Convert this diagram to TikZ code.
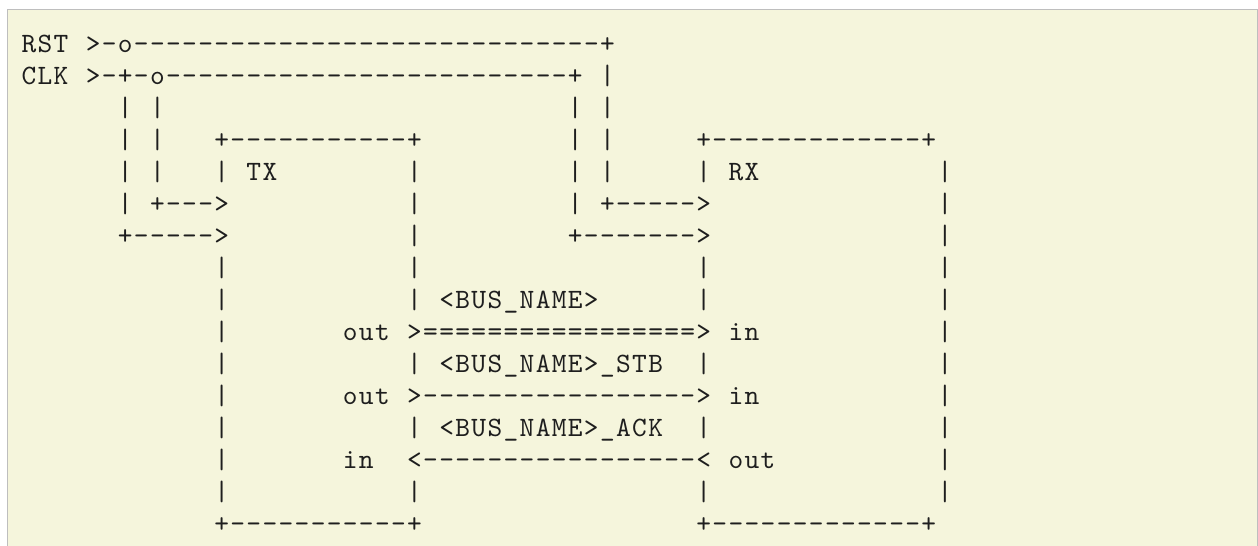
\documentclass[tikz,border=0pt]{standalone}
\usepackage{fontspec}
\newfontfamily\asciifont{lmmono10-regular}[Extension=.otf,LetterSpace=4.9,Ligatures=TeXOff]
\definecolor{pagebeige}{RGB}{245,245,220}
\definecolor{framegray}{RGB}{190,190,190}
\definecolor{inkgray}{RGB}{30,30,30}
% n copies of a character
\newcommand\rep[2]{\ifnum#1>0 #2\rep{\numexpr#1-1\relax}{#2}\fi}
\tikzset{
  asc/.style={anchor=base west,inner sep=0pt,outer sep=0pt,text=inkgray,
    font=\asciifont\fontsize{28pt}{32pt}\selectfont},
}

\begin{document}
\begin{tikzpicture}[x=16.07pt,y=-32pt]
  % code block
  \useasboundingbox (0pt,0pt) rectangle (1258pt,-546pt);
  \fill[pagebeige] (7.5pt,-9pt) rectangle (1257.5pt,-546pt);
  \draw[framegray] (7.5pt,-546pt) -- (7.5pt,-9pt) -- (1257.5pt,-9pt) -- (1257.5pt,-546pt);

  \begin{scope}[shift={(21.5pt,-52pt)}]
    % reset and clock
    \node[asc] (rst) at (0,0) {RST};
    \node[asc] (rstline) at (4,0) {>-o\rep{29}{-}+};
    \node[asc] (clk) at (0,1) {CLK};
    \node[asc] (clkline) at (4,1) {>-+-o\rep{25}{-}+};
    \node[asc] (clktx) at (8,5) {+\rep{3}{-}>};
    \node[asc] (rsttx) at (6,6) {+\rep{5}{-}>};
    \node[asc] (clkrx) at (36,5) {+\rep{5}{-}>};
    \node[asc] (rstrx) at (34,6) {+\rep{7}{-}>};

    % blocks
    \node[asc] (txtop) at (12,3) {+\rep{11}{-}+};
    \node[asc] (txbot) at (12,15) {+\rep{11}{-}+};
    \node[asc] (tx) at (14,4) {TX};
    \node[asc] (rxtop) at (42,3) {+\rep{13}{-}+};
    \node[asc] (rxbot) at (42,15) {+\rep{13}{-}+};
    \node[asc] (rx) at (44,4) {RX};

    % vertical bars
    \foreach \c/\rs in {6/{2,3,4,5},8/{2,3,4},34/{2,3,4,5},36/{1,2,3,4},
        12/{4,7,8,9,10,11,12,13,14},24/{4,5,6,7,8,10,12,14},
        42/{4,7,8,10,12,14},57/{4,5,6,7,8,9,10,11,12,13,14}}
      \foreach \r in \rs
        \node[asc] (bar-\c-\r) at (\c,\r) {|};

    % bus
    \node[asc] (bus) at (26,8) {<BUS\_NAME>};
    \node[asc] (txout) at (20,9) {out};
    \node[asc] (busline) at (24,9) {>\rep{17}{=}>};
    \node[asc] (rxin) at (44,9) {in};
    \node[asc] (stb) at (26,10) {<BUS\_NAME>\_STB};
    \node[asc] (txstb) at (20,11) {out};
    \node[asc] (stbline) at (24,11) {>\rep{17}{-}>};
    \node[asc] (rxstb) at (44,11) {in};
    \node[asc] (ack) at (26,12) {<BUS\_NAME>\_ACK};
    \node[asc] (txack) at (20,13) {in};
    \node[asc] (ackline) at (24,13) {<\rep{17}{-}<};
    \node[asc] (rxack) at (44,13) {out};
  \end{scope}
\end{tikzpicture}
\end{document}
